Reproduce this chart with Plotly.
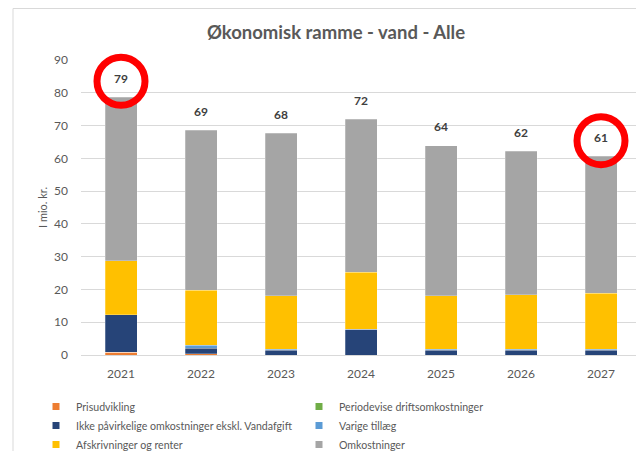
import plotly.graph_objects as go

years = ["2021", "2022", "2023", "2024", "2025", "2026", "2027"]
prisudvikling = [0.8, 0.4, 0.0, 0.0, 0.0, 0.0, 0.0]
periodevise = [0.0, 0.0, 0.0, 0.0, 0.0, 0.0, 0.0]
ikke_paavirkelige = [11.5, 1.6, 1.4, 7.9, 1.4, 1.4, 1.4]
varige_tillaeg = [0.0, 1.0, 0.4, 0.0, 0.4, 0.4, 0.4]
afskrivninger = [16.4, 16.8, 16.3, 17.3, 16.3, 16.6, 17.0]
omkostninger = [50.0, 48.8, 49.5, 46.8, 45.8, 43.8, 41.8]
total_labels = ["79", "69", "68", "72", "64", "62", "61"]
highlight = ["2021", "2027"]

series = [
    ("Prisudvikling", prisudvikling, "#ED7D31"),
    ("Periodevise driftsomkostninger", periodevise, "#70AD47"),
    ("Ikke påvirkelige omkostninger ekskl. Vandafgift", ikke_paavirkelige, "#264478"),
    ("Varige tillæg", varige_tillaeg, "#5B9BD5"),
    ("Afskrivninger og renter", afskrivninger, "#FFC000"),
    ("Omkostninger", omkostninger, "#A5A5A5"),
]

FONT = "Lato"
GRAY = "#595959"

# page body has an 8px margin, so the figure is sized to fill the window
W, H = 636, 443
L, R, T, B = 73, 3, 52, 96
PW, PH = W - L - R, H - T - B

fig = go.Figure()
for name, vals, color in series:
    fig.add_trace(go.Bar(
        x=years, y=vals, name=name, marker_color=color,
        marker_line_color="rgba(255,255,255,0.5)", marker_line_width=0.5,
        showlegend=False,
    ))
# legend entries with small square symbols
for name, vals, color in series:
    fig.add_trace(go.Scatter(
        x=[years[0]], y=[None], mode="markers", name=name,
        marker=dict(symbol="square", size=7, color=color),
        showlegend=True, hoverinfo="skip",
    ))

totals = [sum(v) for v in zip(*[s[1] for s in series])]

for i, (tot, lab) in enumerate(zip(totals, total_labels)):
    fig.add_annotation(x=i, y=tot, text="<b>%s</b>" % lab, showarrow=False,
                       yshift=19, font=dict(family=FONT, size=12, color="#404040"))

# red highlight rings around selected totals
ring_offset = 4.8  # in axis units above the bar top
hx = [yr for yr in highlight]
hy = [totals[years.index(yr)] + ring_offset for yr in highlight]
fig.add_trace(go.Scatter(
    x=hx, y=hy, mode="markers", showlegend=False, hoverinfo="skip",
    cliponaxis=False,
    marker=dict(symbol="circle-open", size=48,
                line=dict(color="#FF0000", width=7), color="#FF0000"),
))

# chart frame
fig.add_shape(type="rect", xref="paper", yref="paper",
              x0=(5 - L) / PW, x1=1.1, y0=-0.5, y1=(T + PH - 0.5) / PH,
              line=dict(color="#D9D9D9", width=1), layer="below")

fig.update_layout(
    width=W, height=H,
    margin=dict(l=L, r=R, t=T, b=B, autoexpand=False),
    barmode="stack", bargap=0.6,
    paper_bgcolor="white", plot_bgcolor="white",
    font=dict(family=FONT, size=12, color=GRAY),
    title=dict(text="<b>Økonomisk ramme - vand - Alle</b>",
               x=328 / W, xanchor="center",
               y=1 - 25 / H, yanchor="middle",
               font=dict(family=FONT, size=18.5, color=GRAY)),
    legend=dict(orientation="h", x=(28 - L) / PW, xanchor="left",
                y=(T + PH - 384) / PH, yanchor="top",
                entrywidth=218, entrywidthmode="pixels",
                traceorder="normal",
                font=dict(family=FONT, size=10.6, color=GRAY),
                itemwidth=30, tracegroupgap=0),
    showlegend=True,
)
fig.update_xaxes(type="category", range=[-0.5, 6.5], showgrid=False, showline=True,
                 linecolor="#D9D9D9", linewidth=1, ticks="",
                 tickfont=dict(family=FONT, size=12, color=GRAY),
                 ticklabelstandoff=8)
fig.update_yaxes(range=[0, 90], dtick=10, showgrid=True, gridcolor="#D9D9D9",
                 gridwidth=1, zeroline=False, showline=False, ticks="",
                 tickfont=dict(family=FONT, size=12, color=GRAY),
                 ticklabelstandoff=12,
                 title=dict(text="I mio. kr.", standoff=4,
                            font=dict(family=FONT, size=11, color=GRAY)))

fig.write_html("out.html")
